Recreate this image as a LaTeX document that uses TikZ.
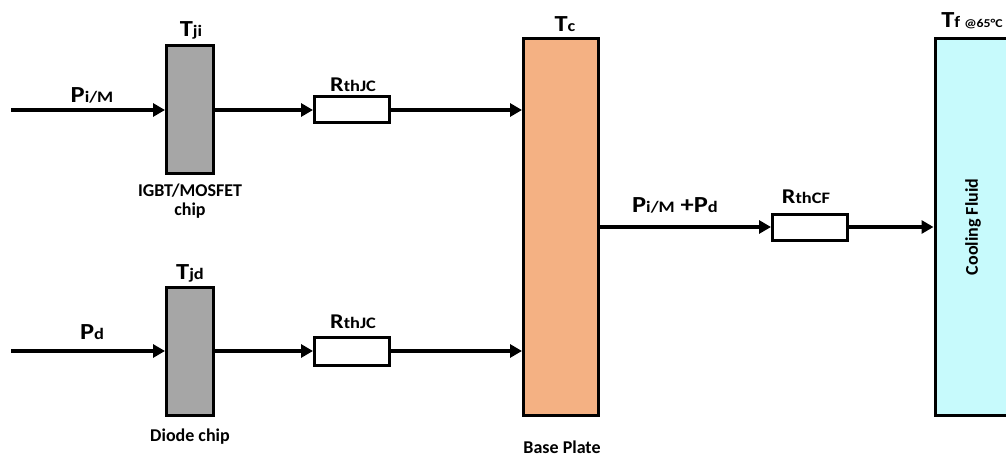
\documentclass[tikz,border=0pt]{standalone}
\usepackage{fontspec}
\setmainfont{Carlito}
\newfontfamily\symfont{Carlito}[FakeStretch=1.15]
\usetikzlibrary{arrows.meta,positioning}

\definecolor{chipgray}{RGB}{166,166,166}
\definecolor{plateorange}{RGB}{244,177,131}
\definecolor{fluidcyan}{RGB}{199,250,252}

% symbol with a larger letter and its index on the same baseline
\newcommand{\symb}[3][23]{{\symfont\fontsize{#1}{#1}\selectfont #2}{\symfont\fontsize{16}{16}\selectfont #3}}

\begin{document}
\begin{tikzpicture}[
  x=1pt,y=-1pt,
  every node/.style={font=\bfseries,align=center},
  block/.style={draw,line width=3pt,inner sep=0pt},
  chip/.style={block,fill=chipgray,minimum width=47pt,minimum height=128pt},
  res/.style={block,fill=white,minimum width=75pt,minimum height=26pt},
  tag/.style={inner sep=0pt,anchor=base},
  note/.style={inner sep=0pt,font=\bfseries\fontsize{18}{19}\selectfont},
  arrow/.style={-{Triangle[length=12pt,width=13pt]},line width=3.2pt}
]
\clip (0,0) rectangle (1006,457);

% blocks
\node[chip] (chipI) at (190,110) {};
\node[chip] (chipD) at (190,351) {};
\node[res] (resI) at (352,110) {};
\node[res,minimum height=28pt] (resD) at (352,351) {};
\node[block,fill=plateorange,minimum width=75pt,minimum height=376pt] (plate) at (561,227) {};
\node[res] (resF) at (810,227) {};
\node[block,fill=fluidcyan,minimum width=80pt,minimum height=376pt] (fluid) at (975,227) {};
\node[note,rotate=90] (fluidname) at (973,227) {Cooling Fluid};

\coordinate (inI) at (11,110);
\coordinate (inD) at (11,351);

% temperatures and losses
\node[tag] (tji) at (191,37) {\symb{T}{ji}};
\node[tag] (tjd) at (190,279) {\symb{T}{jd}};
\node[tag] (tc) at (565,32) {\symb{T}{c}};
\node[tag] (tf) at (972,28) {\symb{T}{f {\fontsize{12}{12}\selectfont @65°C}}};
\node[tag] (pim) at (92,103) {\symb{P}{i/M}};
\node[tag] (pd) at (92,339) {\symb{P}{d}};
\node[tag] (rI) at (353,92) {\symb[21]{R}{thJC}};
\node[tag] (rD) at (353,328) {\symb[21]{R}{thJC}};
\node[tag] (psum) at (675,212) {\symb{P}{i/M}{\symfont\fontsize{23}{23}\selectfont\ +}\symb{P}{d}};
\node[tag] (rF) at (806,204) {\symb[21]{R}{thCF}};

% names below the blocks
\node[note,below=8pt of chipI] (chipIname) {IGBT/MOSFET\\chip};
\node[note,anchor=base] (chipDname) at (190,441) {Diode chip};
\node[note,anchor=base] (platename) at (562,453) {Base Plate};

% heat flow
\draw[arrow] (inI) -- (chipI);
\draw[arrow] (chipI) -- (resI);
\draw[arrow] (resI) -- (resI -| plate.west);
\draw[arrow] (inD) -- (chipD);
\draw[arrow] (chipD) -- (resD);
\draw[arrow] (resD) -- (resD -| plate.west);
\draw[arrow] (plate.east) -- (resF);
\draw[arrow] (resF) -- (fluid);
\end{tikzpicture}
\end{document}
